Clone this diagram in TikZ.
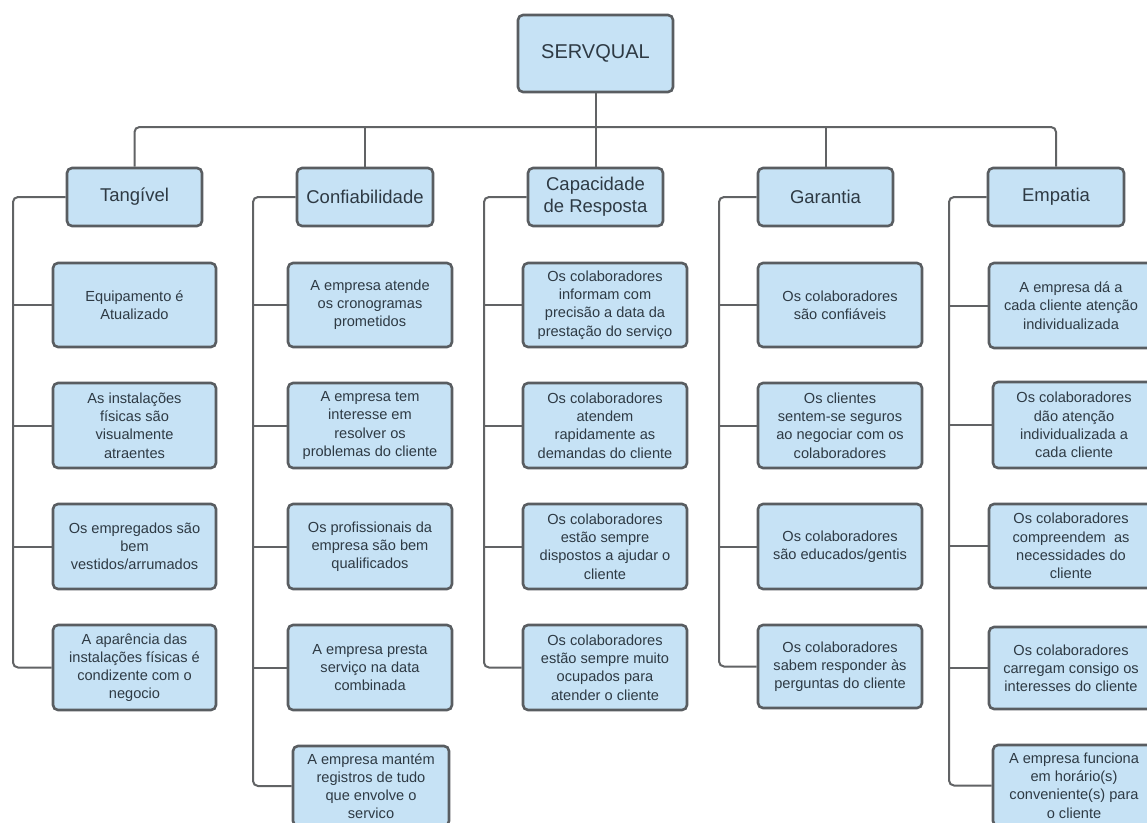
\documentclass[tikz,border=0pt]{standalone}
\usepackage{fontspec}
\setmainfont{Liberation Sans}
\definecolor{boxc}{HTML}{C6E2F5}
\definecolor{bordc}{HTML}{595D61}
\definecolor{linec}{HTML}{616365}
\definecolor{txtc}{HTML}{2E3A44}
\newcommand\bx[7]{\node[#1, minimum width={#5-#3}, minimum height={#6-#4}] (#2) at ({(#3+#5)/2},{(#4+#6)/2}) {#7};}
\begin{document}
\begin{tikzpicture}[x=1pt,y=-1pt,
  box/.style={draw=bordc, fill=boxc, line width=2.6pt, rounded corners=5pt, inner sep=0pt, align=center, text=txtc, font=\fontsize{14.6}{18.2}\selectfont},
  head/.style={box, font=\fontsize{18.5}{22}\selectfont},
  rootbox/.style={box, font=\fontsize{20}{24}\selectfont},
  conn/.style={draw=linec, line width=2pt, rounded corners=5pt}]
\useasboundingbox[fill=white] (0,0) rectangle (1147,822);
\clip (0,0) rectangle (1147,822);

% root and headers
\bx{rootbox}{root}{518}{15}{673}{92}{\raisebox{3pt}{SERVQUAL}}
\bx{head}{tang}{67}{168}{202}{226}{Tangível}
\bx{head}{conf}{297}{168}{433}{226}{Confiabilidade}
\bx{head}{cap}{528}{168}{663}{226}{Capacidade\\de Resposta}
\bx{head}{gar}{758}{168}{893}{226}{Garantia}
\bx{head}{emp}{988}{168}{1124}{226}{Empatia}

% Tangivel
\bx{box}{t1}{53}{263}{216}{347}{Equipamento é\\Atualizado}
\bx{box}{t2}{53}{383}{216}{468}{As instalações\\físicas são\\visualmente\\atraentes}
\bx{box}{t3}{53}{504}{216}{589}{Os empregados são\\bem\\vestidos/arrumados}
\bx{box}{t4}{53}{625}{216}{710}{A aparência das\\instalações físicas é\\condizente com o\\negocio}

% Confiabilidade
\bx{box}{c1}{288}{263}{452}{347}{A empresa atende\\os cronogramas\\prometidos}
\bx{box}{c2}{288}{383}{452}{468}{A empresa tem\\interesse em\\resolver os\\problemas do cliente}
\bx{box}{c3}{288}{504}{452}{589}{Os profissionais da\\empresa são bem\\qualificados}
\bx{box}{c4}{288}{625}{452}{710}{A empresa presta\\serviço na data\\combinada}
\bx{box}{c5}{293}{746}{449}{826}{A empresa mantém\\registros de tudo\\que envolve o\\servico}

% Capacidade de Resposta
\bx{box}{r1}{523}{263}{687}{347}{Os colaboradores\\informam com\\precisão a data da\\prestação do serviço}
\bx{box}{r2}{523}{383}{687}{468}{Os colaboradores\\atendem\\rapidamente as\\demandas do cliente}
\bx{box}{r3}{523}{504}{687}{589}{Os colaboradores\\estão sempre\\dispostos a ajudar o\\cliente}
\bx{box}{r4}{523}{625}{687}{710}{Os colaboradores\\estão sempre muito\\ocupados para\\atender o cliente}

% Garantia
\bx{box}{g1}{758}{263}{922}{347}{Os colaboradores\\são confiáveis}
\bx{box}{g2}{758}{383}{922}{468}{Os clientes\\sentem-se seguros\\ao negociar com os\\colaboradores}
\bx{box}{g3}{758}{504}{922}{589}{Os colaboradores\\são educados/gentis}
\bx{box}{g4}{758}{625}{922}{708}{Os colaboradores\\sabem responder às\\perguntas do cliente}

% Empatia
\bx{box}{e1}{989}{263}{1153}{348}{A empresa dá a\\cada cliente atenção\\individualizada}
\bx{box}{e2}{993}{382}{1155}{468}{Os colaboradores\\dão atenção\\individualizada a\\cada cliente}
\bx{box}{e3}{989}{504}{1153}{588}{Os colaboradores\\compreendem~ as\\necessidades do\\cliente}
\bx{box}{e4}{989}{627}{1153}{709}{Os colaboradores\\carregam consigo os\\interesses do cliente}
\bx{box}{e5}{993}{745}{1155}{826}{A empresa funciona\\em horário(s)\\conveniente(s) para\\o cliente}

% connectors: top
\coordinate (bus) at (596,127);
\draw[conn] (root.south) -- (cap.north);
\draw[conn] (tang.north) -- (tang.north |- bus) -| (emp.north);
\draw[conn] (conf.north) -- (conf.north |- bus);
\draw[conn] (gar.north) -- (gar.north |- bus);

% spines
\coordinate (ts) at (13,0);
\coordinate (cs) at (253,0);
\coordinate (rs) at (484,0);
\coordinate (gs) at (719,0);
\coordinate (es) at (949,0);

\draw[conn] (tang.west) -- (tang.west -| ts) -- (ts |- t4.west) -- (t4.west);
\foreach \n in {t1,t2,t3} \draw[conn] (\n.west) -- (\n.west -| ts);

\draw[conn] (conf.west) -- (conf.west -| cs) -- (cs |- c5.west) -- (c5.west);
\foreach \n in {c1,c2,c3,c4} \draw[conn] (\n.west) -- (\n.west -| cs);

\draw[conn] (cap.west) -- (cap.west -| rs) -- (rs |- r4.west) -- (r4.west);
\foreach \n in {r1,r2,r3} \draw[conn] (\n.west) -- (\n.west -| rs);

\draw[conn] (gar.west) -- (gar.west -| gs) -- (gs |- g4.west) -- (g4.west);
\foreach \n in {g1,g2,g3} \draw[conn] (\n.west) -- (\n.west -| gs);

\draw[conn] (emp.west) -- (emp.west -| es) -- (es |- e5.west) -- (e5.west);
\foreach \n in {e1,e2,e3,e4} \draw[conn] (\n.west) -- (\n.west -| es);
\end{tikzpicture}
\end{document}
